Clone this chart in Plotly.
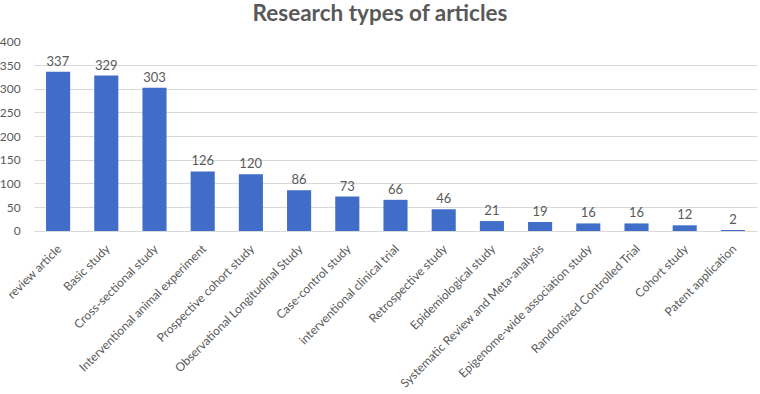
import plotly.graph_objects as go

categories = ["review article", "Basic study", "Cross-sectional study",
              "Interventional animal experiment", "Prospective cohort study",
              "Observational Longitudinal Study", "Case-control study",
              "interventional clinical trial", "Retrospective study",
              "Epidemiological study", "Systematic Review and Meta-analysis",
              "Epigenome-wide association study", "Randomized Controlled Trial",
              "Cohort study", "Patent application"]
counts = [337, 329, 303, 126, 120, 86, 73, 66, 46, 21, 19, 16, 16, 12, 2]
y_ticks = [0, 50, 100, 150, 200, 250, 300, 350, 400]

fig = go.Figure(go.Bar(
    x=categories, y=counts,
    marker=dict(color="#3F6DC7", line=dict(width=0)),
    text=[str(c) for c in counts], textposition="outside",
    textfont=dict(color="#595959", size=13, family="Lato"),
    cliponaxis=False,
))

fig.update_layout(
    width=760, height=394,
    margin=dict(l=34, r=3, t=42, b=163, autoexpand=False),
    paper_bgcolor="white", plot_bgcolor="white",
    bargap=0.5,
    showlegend=False,
    title=dict(text="<b>Research types of articles</b>", x=0.5, xanchor="center",
               y=1 - 13 / 394, yanchor="middle",
               font=dict(family="Lato", size=22.5, color="#595959")),
    font=dict(family="Lato", color="#595959"),
    xaxis=dict(tickangle=-45, tickfont=dict(size=12, color="#595959"),
               showline=True, linecolor="#D9D9D9", ticks="outside",
               ticklen=5, tickcolor="rgba(0,0,0,0)", automargin=False),
    yaxis=dict(range=[0, 400], tickvals=y_ticks, showgrid=True,
               gridcolor="#D9D9D9", zeroline=False, automargin=False,
               tickfont=dict(size=12, color="#595959"), ticks="outside",
               ticklen=10, tickcolor="rgba(0,0,0,0)"),
)

fig.write_html("out.html", config={"displayModeBar": False},
               post_script="document.body.style.margin='0';document.body.style.padding='0';")
